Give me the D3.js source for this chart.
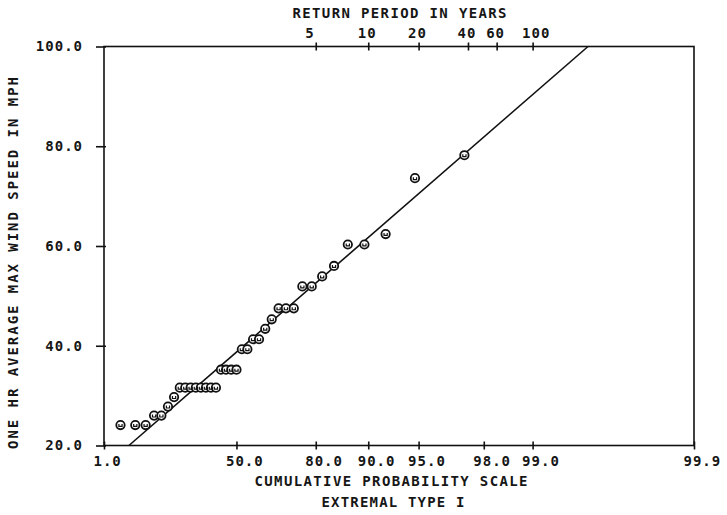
<!DOCTYPE html>
<html>
<head>
<meta charset="utf-8">
<script src="https://cdn.jsdelivr.net/npm/d3@7/dist/d3.min.js"></script>
<style>
  html, body { margin: 0; padding: 0; background: #fff; }
  svg { display: block; }
  text { font-family: "DejaVu Sans Mono", "Liberation Mono", monospace; fill: #161616; font-weight: bold; }
</style>
</head>
<body>
<svg id="chart" width="727" height="515"></svg>
<script>
// Annual extreme one-hour wind speeds on Gumbel (extremal type I) paper.
// Cumulative probability (%) of each ranked observation.
const cumProb = [
  2.63, 5.26, 7.89, 10.53, 13.16, 15.79, 18.42, 21.05, 23.68, 26.32,
  28.95, 31.58, 34.21, 36.84, 39.47, 42.11, 44.74, 47.37, 50.00, 52.63,
  55.26, 57.89, 60.53, 63.16, 65.79, 68.42, 71.05, 73.68, 76.32, 78.95,
  81.58, 84.21, 86.84, 89.47, 92.11, 94.74, 97.37
];
// Observed speeds, mph, in ascending order.
const windSpeed = [
  24.1, 24.1, 24.1, 26.0, 26.0, 27.8, 29.7, 31.6, 31.6, 31.6,
  31.6, 31.6, 31.6, 31.6, 31.6, 35.2, 35.2, 35.2, 35.2, 39.3,
  39.3, 41.3, 41.3, 43.4, 45.3, 47.5, 47.5, 47.5, 51.9, 51.9,
  53.9, 56.0, 60.3, 60.3, 62.4, 73.6, 78.2
];
// Fitted Gumbel distribution: mode and scale, mph.
const fitMode = 34.27;
const fitScale = 12.19;
const fitSpeedRange = [20, 100];

const probTicks = [1.0, 50.0, 80.0, 90.0, 95.0, 98.0, 99.0, 99.9];
const periodTicks = [5, 10, 20, 40, 60, 100];
const speedTicks = [20.0, 40.0, 60.0, 80.0, 100.0];

const reduced = p => -Math.log(-Math.log(p));

const svg = d3.select("#chart");
const plotLeft = 104, plotRight = 694, plotTop = 46.5, plotBottom = 445.5;

const x = d3.scaleLinear()
  .domain([reduced(0.01), reduced(0.999)])
  .range([plotLeft, plotRight]);
const y = d3.scaleLinear()
  .domain([20, 100])
  .range([plotBottom, plotTop]);

const ink = "#111";

// frame
svg.append("rect")
  .attr("x", plotLeft).attr("y", plotTop)
  .attr("width", plotRight - plotLeft).attr("height", plotBottom - plotTop)
  .attr("fill", "none").attr("stroke", ink).attr("stroke-width", 1.6);

function styleAxis(g) {
  g.select(".domain").remove();
  g.selectAll(".tick line").attr("stroke", ink).attr("stroke-width", 1.6);
  g.selectAll(".tick text").attr("font-size", 14).attr("letter-spacing", "1px")
    .attr("fill", "#161616").style("font-family", '"DejaVu Sans Mono", monospace')
    .style("font-weight", "bold");
}
// plotter-style labels start a fixed distance left of their tick
function startLabels(g) {
  g.selectAll(".tick text").attr("text-anchor", "start").attr("x", -11);
}

// bottom axis: cumulative probability
const probVals = probTicks.map(d => reduced(d / 100));
const bottomAxis = d3.axisBottom(x)
  .tickValues(probVals)
  .tickSizeInner(4).tickSizeOuter(0).tickPadding(7)
  .tickFormat((d, i) => probTicks[i].toFixed(1));
svg.append("g").attr("transform", `translate(0,${plotBottom})`)
  .call(bottomAxis).call(styleAxis).call(startLabels);
svg.append("g").attr("transform", `translate(0,${plotBottom})`)
  .call(d3.axisBottom(x).tickValues(probVals).tickSizeInner(-4).tickSizeOuter(0).tickFormat(""))
  .call(styleAxis);

// top axis: return period in years
const periodVals = periodTicks.map(t => reduced(1 - 1 / t));
const topAxis = d3.axisTop(x)
  .tickValues(periodVals)
  .tickSizeInner(4).tickSizeOuter(0).tickPadding(5)
  .tickFormat((d, i) => String(periodTicks[i]));
svg.append("g").attr("transform", `translate(0,${plotTop})`)
  .call(topAxis).call(styleAxis).call(startLabels);
svg.append("g").attr("transform", `translate(0,${plotTop})`)
  .call(d3.axisTop(x).tickValues(periodVals).tickSizeInner(-4).tickSizeOuter(0).tickFormat(""))
  .call(styleAxis);

// left axis: wind speed
const leftAxis = d3.axisLeft(y)
  .tickValues(speedTicks)
  .tickSizeInner(8).tickSizeOuter(0).tickPadding(13)
  .tickFormat(d => d.toFixed(1));
svg.append("g").attr("transform", `translate(${plotLeft},0)`).call(leftAxis).call(styleAxis);
svg.append("g").attr("transform", `translate(${plotLeft},0)`)
  .call(d3.axisLeft(y).tickValues(speedTicks).tickSizeInner(-2).tickSizeOuter(0).tickFormat(""))
  .call(styleAxis);

// axis titles
const titleFont = 14;
svg.append("text")
  .attr("x", 399.5).attr("y", 18)
  .attr("text-anchor", "middle").attr("font-size", titleFont)
  .attr("textLength", 214).attr("lengthAdjust", "spacing")
  .text("RETURN PERIOD IN YEARS");
svg.append("text")
  .attr("x", 391).attr("y", 486)
  .attr("text-anchor", "middle").attr("font-size", titleFont)
  .attr("textLength", 273).attr("lengthAdjust", "spacing")
  .text("CUMULATIVE PROBABILITY SCALE");
svg.append("text")
  .attr("x", 393).attr("y", 507)
  .attr("text-anchor", "middle").attr("font-size", titleFont)
  .attr("textLength", 143).attr("lengthAdjust", "spacing")
  .text("EXTREMAL TYPE I");
svg.append("text")
  .attr("transform", "translate(18,263) rotate(-90)")
  .attr("text-anchor", "middle").attr("font-size", titleFont)
  .attr("textLength", 372).attr("lengthAdjust", "spacing")
  .text("ONE HR AVERAGE MAX WIND SPEED IN MPH");

// fitted line
const fitLine = d3.line()
  .x(v => x((v - fitMode) / fitScale))
  .y(v => y(v));
svg.append("path")
  .datum(fitSpeedRange)
  .attr("d", fitLine)
  .attr("fill", "none").attr("stroke", ink).attr("stroke-width", 1.6);

// observations
const pts = cumProb.map((p, i) => ({ px: x(reduced(p / 100)), py: y(windSpeed[i]) }));
const sym = svg.append("g");
sym.selectAll("circle")
  .data(pts).join("circle")
  .attr("cx", d => d.px).attr("cy", d => d.py).attr("r", 4.2)
  .attr("fill", "#fff").attr("stroke", ink).attr("stroke-width", 1.8);
sym.selectAll("path.mark")
  .data(pts).join("path").attr("class", "mark")
  .attr("d", d => `M${d.px - 1.6},${d.py - 1} L${d.px - 1.6},${d.py + 1.4} L${d.px + 1.6},${d.py + 1.4} L${d.px + 1.6},${d.py - 1}`)
  .attr("fill", "none").attr("stroke", ink).attr("stroke-width", 1.2);
</script>
</body>
</html>
